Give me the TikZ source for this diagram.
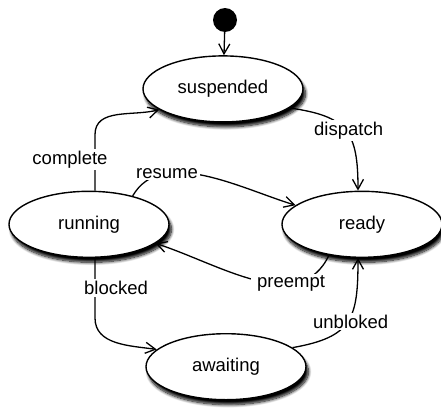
\documentclass[tikz,border=0pt]{standalone}
\usepackage{fontspec}
\setmainfont{Liberation Sans}
\usetikzlibrary{positioning}
\usetikzlibrary{shapes.geometric}
\usetikzlibrary{arrows.meta}
\usetikzlibrary{shadows.blur}
\tikzstyle{state} = [ellipse, draw=black, fill=white, line width=1.4pt, minimum width=160pt, minimum height=66pt, font=\fontsize{18.5}{20}\selectfont, blur shadow={shadow xshift=2.5pt, shadow yshift=-5pt, shadow opacity=100, shadow blur steps=10, shadow blur radius=3pt}]
\tikzstyle{init} = [circle, fill=black, minimum size=24pt, inner sep=0pt]
\tikzstyle{trans} = [line width=1.3pt, -{Straight Barb[length=10pt,width=11pt]}]
\tikzstyle{lbl} = [fill=white, inner sep=2pt, font=\fontsize{18.5}{20}\selectfont]

\begin{document}
\begin{tikzpicture}
\useasboundingbox (-225pt,20pt) rectangle (216pt,-387pt);

% Define nodes
\node[init]                                              (start)     {};
\node[state, below = 23pt of start, xshift = -2pt]       (suspended) {suspended};
\node[state, below = 68pt of suspended, xshift = -134pt] (running)   {running};
\node[state, below = 68pt of suspended, xshift = 139pt]  (ready)     {ready};
\node[state, below = 75pt of running, xshift = 137pt]    (awaiting)  {awaiting};

% Edges
\draw[trans] (start) -- (suspended);
\draw[trans] ([xshift=6pt]running.north) -- node[lbl, pos=.55, xshift=-25pt] {complete} ++(0,56pt) to[out=90, in=195] (suspended.198);
\draw[trans] (running.33) to[out=60, in=163, looseness=.9] node[lbl, pos=.28] {resume} (ready.164);
\draw[trans] (suspended.344) to[out=-8, in=90, looseness=1.4] node[lbl, pos=.5, xshift=3pt] {dispatch} ([xshift=-4pt]ready.north);
\draw[trans] (ready.223) to[out=245, in=-18] node[lbl, pos=.3, inner xsep=6pt] {preempt} (running.344);
\draw[trans] ([xshift=6pt]running.south) -- node[lbl, xshift=21pt] {blocked} ++(0,-60pt) to[out=-90, in=172] (awaiting.166);
\draw[trans] (awaiting.16) to[out=10, in=-90, looseness=1.4] node[lbl, pos=.5, xshift=3pt] {unbloked} ([xshift=-4pt]ready.south);

\end{tikzpicture}
\end{document}
